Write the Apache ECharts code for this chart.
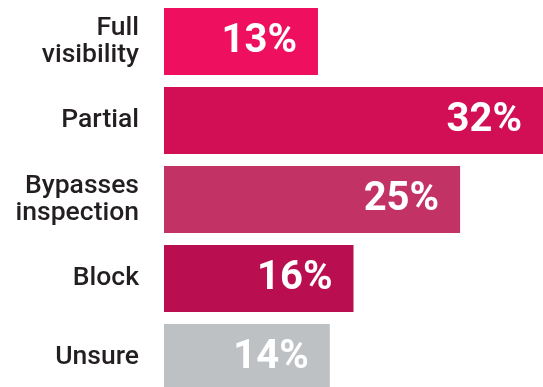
<!DOCTYPE html>
<html>
<head>
<meta charset="utf-8">
<script src="https://cdn.jsdelivr.net/npm/echarts@6/dist/echarts.min.js"></script>
<style>
html,body{margin:0;padding:0;background:#fff;}
#chart{width:543px;height:387px;}
</style>
</head>
<body>
<div id="chart"></div>
<script>
var categories = ['Full\nvisibility', 'Partial', 'Bypasses\ninspection', 'Block', 'Unsure'];
var values = [13, 32, 25, 16, 14];
var barColors = ['#EE105E', '#D20E54', '#C23265', '#B90E4F', '#BEC1C4'];

var chart = echarts.init(document.getElementById('chart'));
chart.setOption({
  animation: false,
  backgroundColor: '#ffffff',
  grid: { left: 164, right: 0, top: 2, height: 395, outerBoundsMode: 'none', containLabel: false },
  xAxis: {
    type: 'value', min: 0, max: 32,
    show: false
  },
  yAxis: {
    type: 'category',
    inverse: true,
    data: categories,
    axisLine: { show: false },
    axisTick: { show: false },
    axisLabel: {
      margin: 25,
      color: '#231f20',
      fontFamily: 'Roboto',
      fontWeight: 500,
      fontSize: 26.5,
      lineHeight: 27,
      align: 'right'
    }
  },
  series: [{
    type: 'bar',
    barWidth: 67,
    data: values.map(function (v, i) {
      return { value: v, itemStyle: { color: barColors[i] } };
    }),
    label: {
      show: true,
      position: 'insideRight',
      distance: 21,
      color: '#ffffff',
      fontFamily: 'Roboto',
      fontWeight: 'bold',
      fontSize: 40,
      formatter: function (p) { return p.value + '%'; }
    }
  }]
});
</script>
</body>
</html>
